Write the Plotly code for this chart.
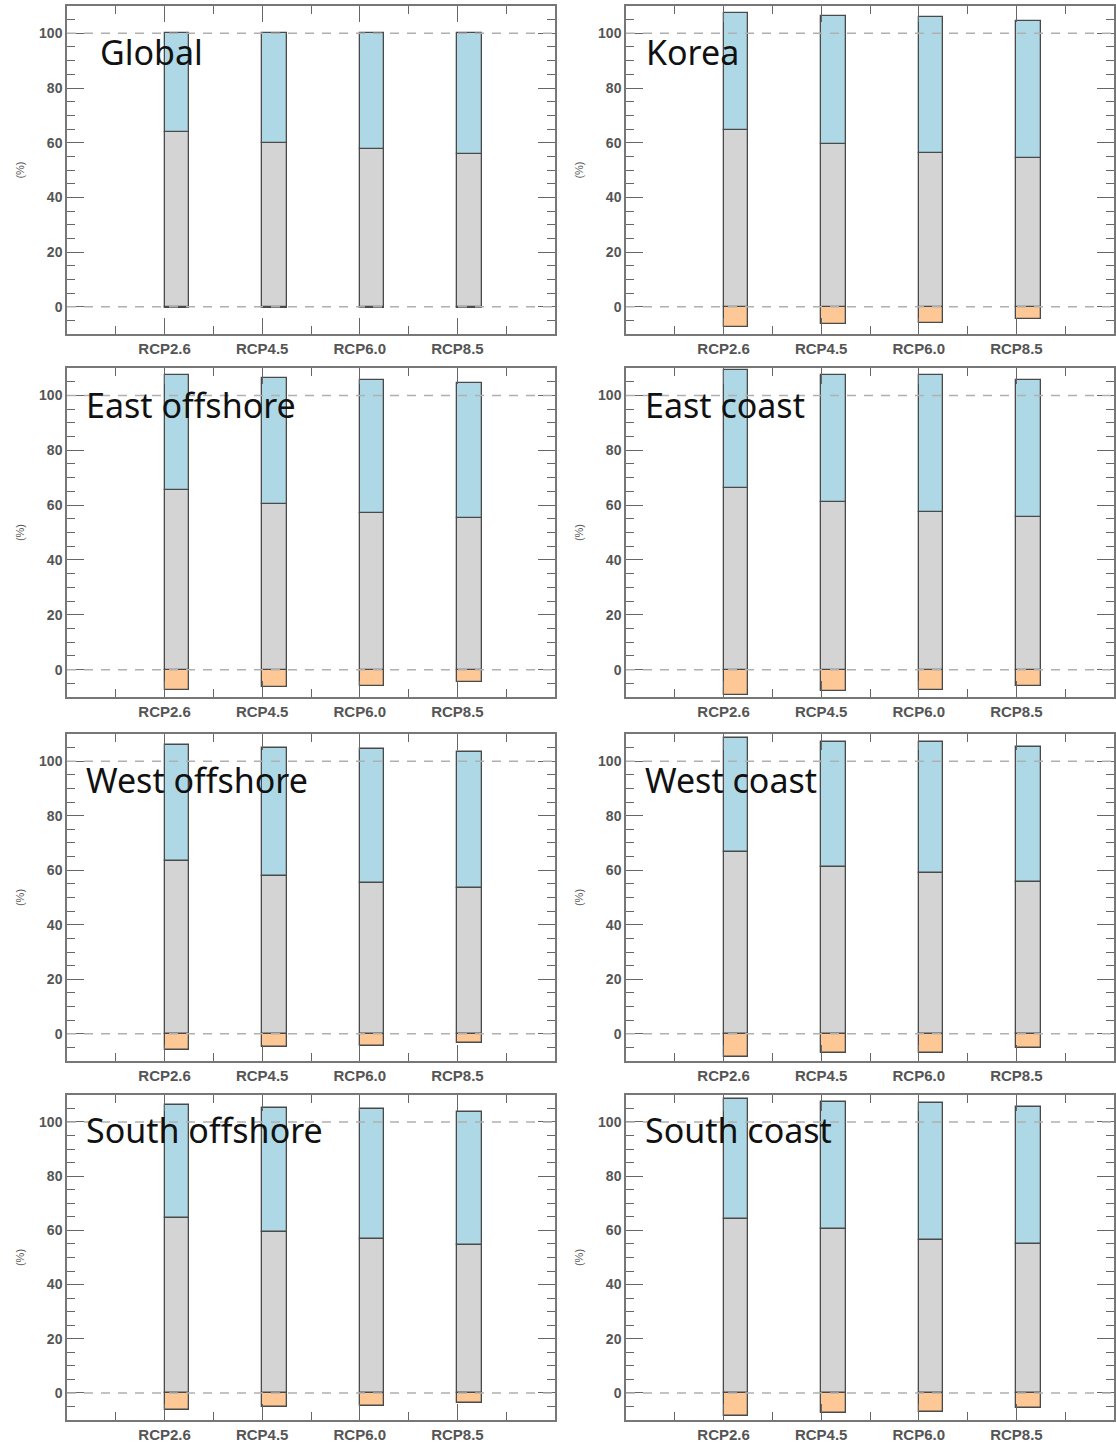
import plotly.graph_objects as go
from plotly.subplots import make_subplots

categories = ["RCP2.6", "RCP4.5", "RCP6.0", "RCP8.5"]
regions = ["Global", "Korea", "East offshore", "East coast",
           "West offshore", "West coast", "South offshore", "South coast"]

# gray (lower positive) component
gray = {
    "Global":         [63.9, 59.9, 57.7, 55.8],
    "Korea":          [64.6, 59.5, 56.2, 54.4],
    "East offshore":  [65.5, 60.4, 57.1, 55.3],
    "East coast":     [66.2, 61.1, 57.5, 55.6],
    "West offshore":  [63.3, 57.8, 55.3, 53.5],
    "West coast":     [66.9, 61.1, 58.9, 55.6],
    "South offshore": [64.7, 59.6, 56.7, 54.5],
    "South coast":    [64.4, 60.4, 56.4, 54.9],
}
# blue (upper positive) component
blue = {
    "Global":         [36.1, 40.1, 42.3, 44.2],
    "Korea":          [42.7, 46.7, 49.6, 50.0],
    "East offshore":  [41.8, 45.8, 48.7, 49.1],
    "East coast":     [42.9, 46.5, 49.8, 50.2],
    "West offshore":  [42.5, 46.9, 49.1, 49.8],
    "West coast":     [41.5, 45.8, 48.0, 49.5],
    "South offshore": [41.5, 45.5, 48.0, 49.1],
    "South coast":    [44.0, 46.9, 50.5, 50.6],
}
# orange (negative) component
orange = {
    "Global":         [-0.4, -0.4, -0.4, -0.4],
    "Korea":          [-7.3, -6.2, -5.8, -4.4],
    "East offshore":  [-7.3, -6.2, -5.8, -4.4],
    "East coast":     [-9.1, -7.6, -7.3, -5.8],
    "West offshore":  [-5.8, -4.7, -4.4, -3.3],
    "West coast":     [-8.4, -6.9, -6.9, -5.1],
    "South offshore": [-6.2, -5.1, -4.7, -3.6],
    "South coast":    [-8.4, -7.3, -6.9, -5.5],
}

W, H = 1116, 1443
col_px = [(67, 555), (626, 1114)]
row_px = [(6, 336), (370, 701), (738, 1067), (1101, 1428)]
label_dx = {"Global": 31, "Korea": 18}
label_y = [93, 96.5, 93, 97]

fig = make_subplots(rows=4, cols=2)

xpos = [i + 1 for i in range(len(categories))]
GRAY, BLUE, ORANGE = "#d4d4d4", "#aed8e6", "#fdc796"
EDGE = "#4a4a4a"

for idx, reg in enumerate(regions):
    r, c = idx // 2 + 1, idx % 2 + 1
    for vals, col in ((orange[reg], ORANGE), (gray[reg], GRAY), (blue[reg], BLUE)):
        fig.add_trace(go.Bar(x=xpos, y=vals, width=0.25, offset=0,
                             marker=dict(color=col, line=dict(color=EDGE, width=1.3)),
                             showlegend=False, hoverinfo="skip"), row=r, col=c)
    for yv in (0, 100):
        fig.add_hline(y=yv, row=r, col=c, layer="above",
                      line=dict(color="#b0b0b0", width=1.5, dash="9px,8px"))
    n = idx + 1
    xa = "x" if n == 1 else f"x{n}"
    ya = "y" if n == 1 else f"y{n}"
    x0, x1 = col_px[c - 1]
    dx = label_dx.get(reg, 17)
    fig.add_annotation(text=reg, xref=f"{xa} domain", yref=ya,
                       x=dx / (x1 - x0), y=label_y[r - 1],
                       xanchor="left", yanchor="middle", showarrow=False,
                       font=dict(family="Noto Sans", size=34, color="#111"))

axis_line = dict(showline=True, linecolor="#777", linewidth=1.5, mirror="allticks",
                 ticks="inside", tickcolor="#666", tickwidth=1.3, showgrid=False,
                 zeroline=False)
xtickfont = dict(family="Liberation Sans", size=15, color="#555", weight="bold")
ytickfont = dict(family="Liberation Sans", size=14, color="#555", weight="bold")

for idx in range(8):
    r, c = idx // 2 + 1, idx % 2 + 1
    x0, x1 = col_px[c - 1]
    yt, yb = row_px[r - 1]
    fig.update_xaxes(row=r, col=c, domain=[x0 / W, x1 / W], range=[0, 5],
                     tickmode="array", tickvals=xpos, ticktext=categories,
                     ticklen=16, tickfont=xtickfont,
                     minor=dict(tickmode="array", tickvals=[0.5, 1.5, 2.5, 3.5, 4.5],
                                ticks="inside", ticklen=8, tickcolor="#666", tickwidth=1.3),
                     **axis_line)
    fig.update_yaxes(row=r, col=c, domain=[1 - yb / H, 1 - yt / H], range=[-10, 110],
                     tickmode="linear", tick0=0, dtick=20, ticklen=17, tickfont=ytickfont,
                     minor=dict(tickmode="linear", tick0=0, dtick=5, ticks="inside",
                                ticklen=8, tickcolor="#666", tickwidth=1.3),
                     title=dict(text="(%)", font=dict(family="Liberation Sans", size=11, color="#555"),
                                standoff=12),
                     **axis_line)

fig.update_layout(width=W, height=H, margin=dict(l=0, r=0, t=0, b=0),
                  barmode="relative", bargap=0, plot_bgcolor="white", paper_bgcolor="white",
                  showlegend=False)

fig.write_html("out.html")
